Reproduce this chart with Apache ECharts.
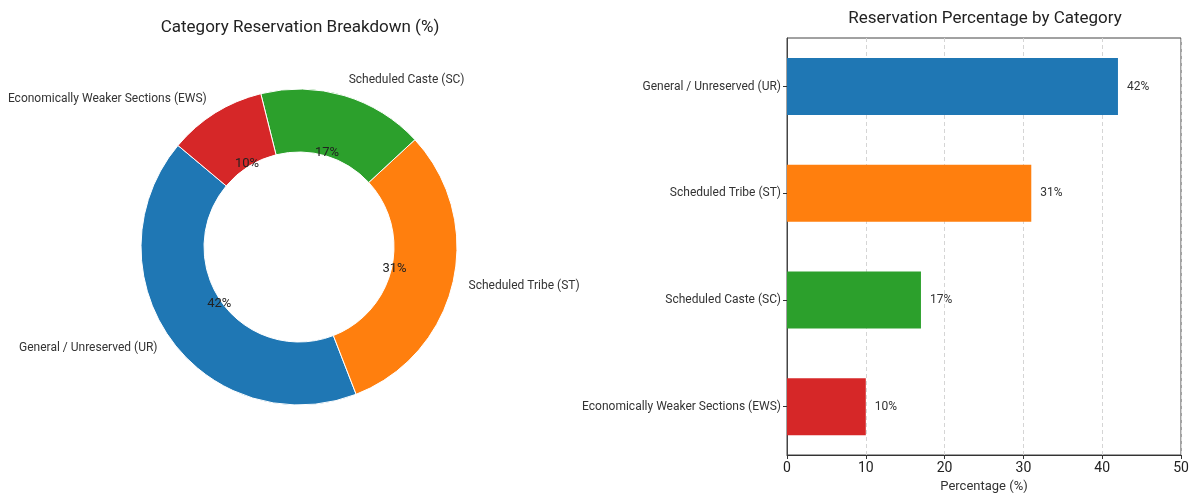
<!DOCTYPE html>
<html>
<head>
<meta charset="utf-8">
<script src="https://cdn.jsdelivr.net/npm/echarts@6/dist/echarts.min.js"></script>
<style>
html,body{margin:0;padding:0;background:#fff;}
#chart{width:1200px;height:503px;}
</style>
</head>
<body>
<div id="chart"></div>
<script>
const categories = ['General / Unreserved (UR)', 'Scheduled Tribe (ST)', 'Scheduled Caste (SC)', 'Economically Weaker Sections (EWS)'];
const values = [42, 31, 17, 10];
const colors = ['#1f77b4', '#ff7f0e', '#2ca02c', '#d62728'];
const xTicks = [0, 10, 20, 30, 40, 50];

const FONT = 'Roboto';
const chart = echarts.init(document.getElementById('chart'), null, {renderer: 'canvas'});

const pieData = categories.map((c, i) => ({name: c, value: values[i], itemStyle: {color: colors[i]}}));
const center = [299, 247];

const option = {
  animation: false,
  textStyle: {fontFamily: FONT},
  title: [
    {text: 'Category Reservation Breakdown (%)', left: 295, top: 14, textAlign: 'center',
     textStyle: {fontFamily: FONT, fontSize: 17, fontWeight: 'normal', color: '#222'}},
    {text: 'Reservation Percentage by Category', left: 980, top: 5, textAlign: 'center',
     textStyle: {fontFamily: FONT, fontSize: 17, fontWeight: 'normal', color: '#222'}}
  ],
  grid: [
    {left: 787, right: 19, top: 38, height: 417, show: true, borderColor: '#444', borderWidth: 1, backgroundColor: 'transparent'},
    {left: 787, right: 19, top: 33.2, height: 426.8}
  ],
  xAxis: [
    {type: 'value', gridIndex: 0, min: xTicks[0], max: xTicks[xTicks.length - 1], interval: xTicks[1] - xTicks[0],
     name: 'Percentage (%)', nameLocation: 'middle', nameGap: 25,
     nameTextStyle: {fontFamily: FONT, fontSize: 13, color: '#333'},
     axisLine: {show: true, lineStyle: {color: '#333'}},
     axisTick: {show: true, length: 4, lineStyle: {color: '#333'}},
     axisLabel: {fontFamily: FONT, fontSize: 14, color: '#222', margin: 6},
     splitLine: {show: true, lineStyle: {type: [4, 3], color: '#d5d5d5'}}},
    {type: 'value', gridIndex: 1, min: 0, max: 50, show: false}
  ],
  yAxis: [
    {type: 'value', gridIndex: 0, min: 0, max: 1, axisLabel: {show: false}, axisTick: {show: false},
     splitLine: {show: false}, axisLine: {show: true, lineStyle: {color: '#444'}}},
    {type: 'category', gridIndex: 1, data: categories, inverse: true,
     axisLine: {show: false},
     axisTick: {show: true, alignWithLabel: true, length: 4, lineStyle: {color: '#333'}},
     axisLabel: {fontFamily: FONT, fontSize: 12, color: '#333', margin: 6}}
  ],
  series: [
    {type: 'pie', center: center, radius: [95, 158], startAngle: 140, clockwise: false,
     avoidLabelOverlap: false, data: pieData,
     itemStyle: {borderColor: '#fff', borderWidth: 1},
     label: {show: true, position: 'outside', formatter: '{b}', fontFamily: FONT, fontSize: 12, color: '#333',
             distanceToLabelLine: 0, alignTo: 'none'},
     labelLine: {show: false, length: 16, length2: 0},
     emphasis: {disabled: true}},
    {type: 'pie', center: center, radius: [85, 105], startAngle: 140, clockwise: false,
     avoidLabelOverlap: false, silent: true,
     data: pieData.map(d => ({name: d.name, value: d.value, itemStyle: {color: 'transparent'}})),
     label: {show: true, position: 'inside', formatter: p => p.value + '%', fontFamily: FONT, fontSize: 13, color: '#222'},
     labelLine: {show: false}, emphasis: {disabled: true}},
    {type: 'bar', xAxisIndex: 1, yAxisIndex: 1, barWidth: 57,
     data: values.map((v, i) => ({value: v, itemStyle: {color: colors[i]}})),
     label: {show: true, position: 'right', distance: 9, formatter: p => p.value + '%',
             fontFamily: FONT, fontSize: 12, color: '#333'}}
  ]
};
chart.setOption(option);
</script>
</body>
</html>
